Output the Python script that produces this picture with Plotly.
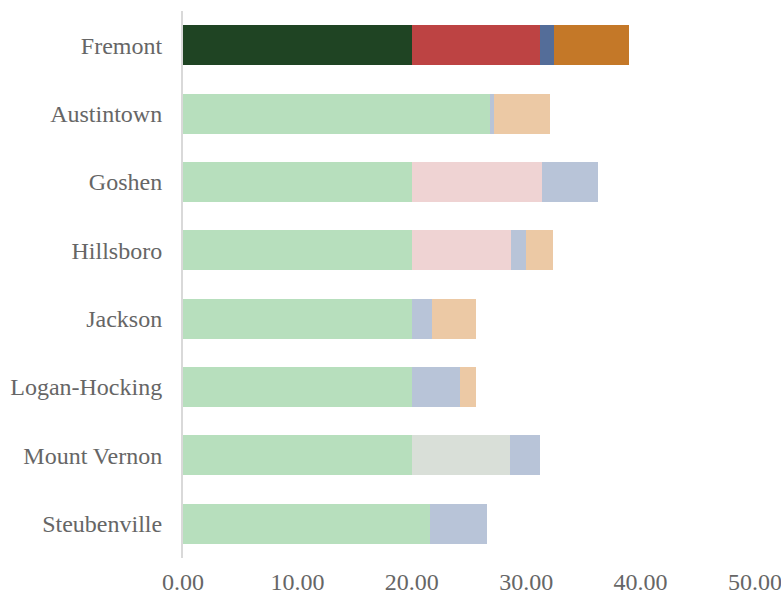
import plotly.graph_objects as go

categories = ["Fremont", "Austintown", "Goshen", "Hillsboro", "Jackson",
              "Logan-Hocking", "Mount Vernon", "Steubenville"]

series_names = ["Series 1", "Series 2", "Series 3", "Series 4", "Series 5"]
s1 = [20.0, 26.8, 20.0, 20.0, 20.0, 20.0, 20.0, 21.6]
s2 = [11.2, None, 11.4, 8.7, None, None, None, None]
s3 = [None, None, None, None, None, None, 8.6, None]
s4 = [1.2, 0.4, 4.9, 1.3, 1.8, 4.2, 2.6, 5.0]
s5 = [6.6, 4.9, None, 2.3, 3.8, 1.4, None, None]
series_values = [s1, s2, s3, s4, s5]

highlight = "Fremont"
strong_colors = ["#1f4423", "#bd4343", "#9aa69a", "#546d99", "#c47828"]
pale_colors = ["#b7dfbd", "#efd3d3", "#d9dfd8", "#b8c4d8", "#ecc9a5"]
tick_vals = [0, 10, 20, 30, 40, 50]

fig = go.Figure()
for name, vals, sc, pc in zip(series_names, series_values, strong_colors, pale_colors):
    colors = [sc if c == highlight else pc for c in categories]
    fig.add_trace(go.Bar(
        y=categories, x=vals, name=name, orientation="h",
        marker=dict(color=colors, line=dict(width=0)),
    ))

font_family = "Liberation Serif, Times New Roman, serif"
fig.update_layout(
    barmode="stack",
    bargap=0.415,
    width=781, height=600,
    margin=dict(l=183, r=26, t=11, b=42),
    plot_bgcolor="white", paper_bgcolor="white",
    showlegend=False,
    font=dict(family=font_family, size=24, color="#666666"),
)
fig.update_xaxes(
    range=[0, 50], tickvals=tick_vals, tickformat=".2f",
    showgrid=False, zeroline=False, showline=False, ticks="",
    tickfont=dict(family=font_family, size=24, color="#666666"),
    ticklabelstandoff=7, ticklabeloverflow="allow", automargin=False,
)
fig.update_yaxes(
    autorange="reversed", showgrid=False, zeroline=False,
    showline=True, linecolor="#d9d9d9", linewidth=2, ticks="",
    tickfont=dict(family=font_family, size=24, color="#666666"),
    ticklabelstandoff=14, automargin=False,
)
fig.write_html("out.html")
